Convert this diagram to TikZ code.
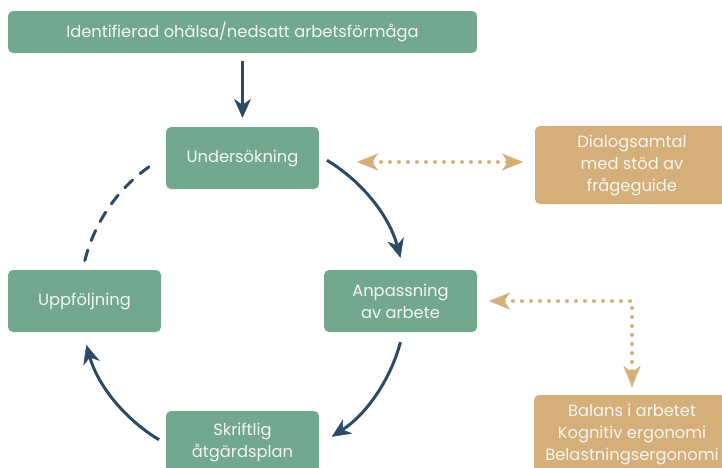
\documentclass[tikz,border=0pt]{standalone}
\usepackage{fontspec}
\setmainfont{Poppins}
\usetikzlibrary{arrows.meta,calc}
\definecolor{boxgreen}{HTML}{72A88E}
\definecolor{navy}{HTML}{2B4A66}
\definecolor{tan}{HTML}{D5AF7A}
\definecolor{boxtext}{HTML}{F4F6F2}
\tikzset{
  navytip/.tip={Stealth[length=19pt,width=17pt,inset=6pt,line width=0.5pt]},
  tantip/.tip={Stealth[length=21pt,width=17pt,inset=6pt,line width=0.1pt]},
  gbox/.style={fill=boxgreen, rounded corners=5pt, text=boxtext, align=center,
    font=\fontsize{16.3}{22}\selectfont, inner sep=0pt},
  tbox/.style={fill=tan, rounded corners=5pt, text=boxtext, align=center,
    font=\fontsize{16.3}{22}\selectfont, inner sep=0pt},
  flow/.style={draw=navy, line width=3pt, -navytip},
  dashflow/.style={draw=navy, line width=3pt, line cap=round, dash pattern=on 11pt off 10pt},
  dotlink/.style={draw=tan, line width=4pt, line cap=round, dash pattern=on 0pt off 9pt, tantip-tantip}
}
\begin{document}
\begin{tikzpicture}[x=1pt,y=-1pt]
\useasboundingbox (0,0) rectangle (722,467);
\clip (0,0) rectangle (722,467);
% boxes
\node[gbox, minimum width=469pt, minimum height=42pt] (top) at (242.5,32) {Identifierad ohälsa/nedsatt arbetsförmåga};
\node[gbox, minimum width=153pt, minimum height=62pt] (unders) at (242.5,158) {Undersökning};
\node[gbox, minimum width=153pt, minimum height=62pt] (uppf) at (84.5,301) {Uppföljning};
\node[gbox, minimum width=153pt, minimum height=62pt] (anp) at (400.5,301) {Anpassning\\av arbete};
\node[gbox, minimum width=153pt, minimum height=62pt] (skrift) at (242.5,442) {Skriftlig\\åtgärdsplan};
\node[tbox, minimum width=194pt, minimum height=78pt] (dialog) at (632,165) {Dialogsamtal\\med stöd av\\frågeguide};
\node[tbox, minimum width=196pt, minimum height=78pt] (balans) at (632,434) {Balans i arbetet\\Kognitiv ergonomi\\Belastningsergonomi};
% main arrow
\coordinate (a0) at ($(top.south)+(0,8)$);
\coordinate (a1) at ($(unders.north)+(0,-9)$);
\draw[flow] (a0) -- (a1);
% cycle
\coordinate (c) at (243,300);
\coordinate (p1) at ($(c)+(-59:163)$);
\coordinate (p2) at ($(c)+(15:163)$);
\coordinate (p3) at ($(c)+(121:163)$);
\coordinate (p4) at ($(c)+(194:163)$);
\draw[flow] (p1) arc[start angle=-59, end angle=-15, radius=163];
\draw[flow] (p2) arc[start angle=15, end angle=57, radius=163];
\draw[flow] (p3) arc[start angle=121, end angle=164, radius=163];
\draw[dashflow] (p4) arc[start angle=194, end angle=238, radius=163];
% dotted links
\coordinate (d1) at (357,162);
\coordinate (d2) at (523,162);
\draw[dotlink] (d1) -- (d2);
\coordinate (e1) at (489,301);
\coordinate (corner) at (632,301);
\coordinate (e2) at (632,387);
\draw[dotlink] (e1) -- (corner) -- (e2);
\end{tikzpicture}
\end{document}
